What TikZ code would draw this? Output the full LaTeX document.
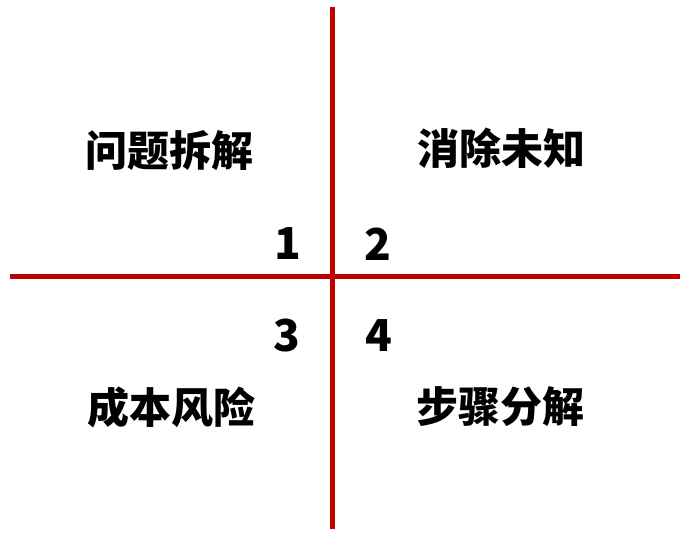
\documentclass[tikz,border=0pt]{standalone}
\usepackage{fontspec}
\newfontfamily\cjk{Noto Sans CJK SC}
\definecolor{axred}{RGB}{192,0,0}

\begin{document}
\begin{tikzpicture}[x=1pt,y=-1pt,
    axis/.style={axred,line width=4.5pt},
    quad/.style={font=\cjk\bfseries\fontsize{42}{48}\selectfont,inner sep=0pt},
    num/.style={font=\cjk\bfseries\fontsize{44}{50}\selectfont,inner sep=0pt}]
    \useasboundingbox (0,0) rectangle (692,541);
    \coordinate (T) at (332.5,7);
    \coordinate (B) at (332.5,529);
    \coordinate (L) at (10,276.5);
    \coordinate (R) at (680,276.5);
    %
    \draw[axis] (T) -- (B);
    \draw[axis] (L) -- (R);
    %
    \node[quad] (q1) at (169,151) {问题拆解};
    \node[quad] (q2) at (501,148) {消除未知};
    \node[quad] (q3) at (171,407) {成本风险};
    \node[quad] (q4) at (500,407) {步骤分解};
    %
    \node[num] (n1) at (288,244) {1};
    \node[num] (n2) at (378,244) {2};
    \node[num] (n3) at (287,336) {3};
    \node[num] (n4) at (379,336) {4};
    %
\end{tikzpicture}
\end{document}
